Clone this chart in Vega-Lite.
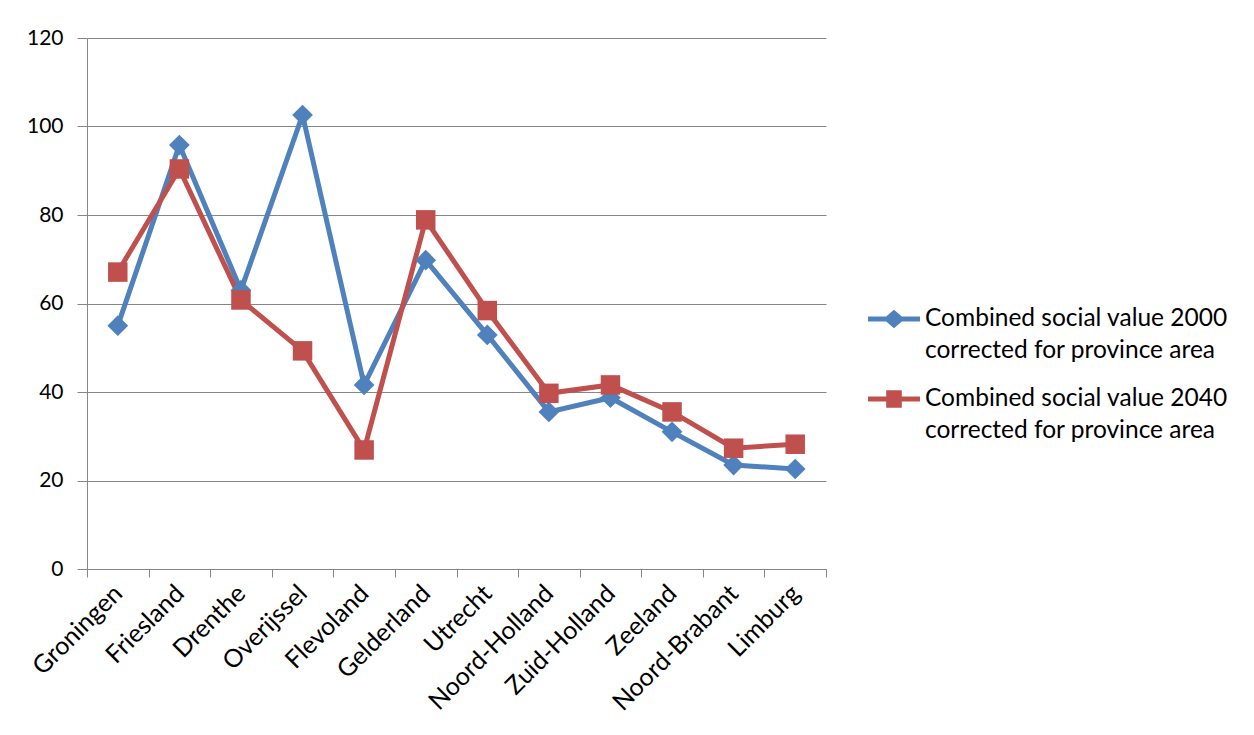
{
  "$schema": "https://vega.github.io/schema/vega-lite/v6.json",
  "width": 739,
  "height": 531,
  "autosize": {"type": "none"},
  "padding": {"left": 87, "top": 38, "right": 428, "bottom": 166},
  "background": "white",
  "config": {
    "view": {"stroke": null},
    "font": "Lato",
    "axis": {"labelFont": "Lato", "labelFontSize": 21, "labelColor": "#000000", "domainColor": "#868686", "tickColor": "#868686", "gridColor": "#868686"}
  },
  "data": {
    "values": [
      {"province": "Groningen", "series": "Combined social value 2000 corrected for province area", "value": 55},
      {"province": "Friesland", "series": "Combined social value 2000 corrected for province area", "value": 95.8},
      {"province": "Drenthe", "series": "Combined social value 2000 corrected for province area", "value": 63},
      {"province": "Overijssel", "series": "Combined social value 2000 corrected for province area", "value": 102.6},
      {"province": "Flevoland", "series": "Combined social value 2000 corrected for province area", "value": 41.6},
      {"province": "Gelderland", "series": "Combined social value 2000 corrected for province area", "value": 69.8},
      {"province": "Utrecht", "series": "Combined social value 2000 corrected for province area", "value": 52.9},
      {"province": "Noord-Holland", "series": "Combined social value 2000 corrected for province area", "value": 35.5},
      {"province": "Zuid-Holland", "series": "Combined social value 2000 corrected for province area", "value": 38.7},
      {"province": "Zeeland", "series": "Combined social value 2000 corrected for province area", "value": 31},
      {"province": "Noord-Brabant", "series": "Combined social value 2000 corrected for province area", "value": 23.5},
      {"province": "Limburg", "series": "Combined social value 2000 corrected for province area", "value": 22.6},
      {"province": "Groningen", "series": "Combined social value 2040 corrected for province area", "value": 67.1},
      {"province": "Friesland", "series": "Combined social value 2040 corrected for province area", "value": 90.4},
      {"province": "Drenthe", "series": "Combined social value 2040 corrected for province area", "value": 60.8},
      {"province": "Overijssel", "series": "Combined social value 2040 corrected for province area", "value": 49.3},
      {"province": "Flevoland", "series": "Combined social value 2040 corrected for province area", "value": 26.9},
      {"province": "Gelderland", "series": "Combined social value 2040 corrected for province area", "value": 78.9},
      {"province": "Utrecht", "series": "Combined social value 2040 corrected for province area", "value": 58.4},
      {"province": "Noord-Holland", "series": "Combined social value 2040 corrected for province area", "value": 39.7},
      {"province": "Zuid-Holland", "series": "Combined social value 2040 corrected for province area", "value": 41.6},
      {"province": "Zeeland", "series": "Combined social value 2040 corrected for province area", "value": 35.5},
      {"province": "Noord-Brabant", "series": "Combined social value 2040 corrected for province area", "value": 27.3},
      {"province": "Limburg", "series": "Combined social value 2040 corrected for province area", "value": 28.2}
    ]
  },
  "encoding": {
    "x": {
      "field": "province",
      "type": "nominal",
      "sort": null,
      "title": null,
      "scale": {"type": "band", "paddingInner": 0, "paddingOuter": 0},
      "axis": {"tickBand": "extent", "labelAngle": -45, "labelAlign": "right", "labelBaseline": "middle", "labelFontSize": 25, "tickSize": 8, "labelPadding": 12, "labelDx": 6, "grid": false}
    },
    "y": {
      "field": "value",
      "type": "quantitative",
      "title": null,
      "scale": {"domain": [0, 120], "nice": false},
      "axis": {"values": [0, 20, 40, 60, 80, 100, 120], "tickSize": 10, "labelPadding": 14, "grid": true}
    },
    "color": {
      "field": "series",
      "type": "nominal",
      "scale": {"range": ["#4F81BD", "#C0504D"]}
    }
  },
  "layer": [
    {
      "mark": {"type": "line", "strokeWidth": 5},
      "encoding": {
        "detail": {"field": "series"},
        "color": {
          "field": "series",
          "type": "nominal",
          "scale": {"range": ["#4F81BD", "#C0504D"]},
          "legend": {
            "title": null,
            "orient": "none",
            "legendX": 781,
            "legendY": 255,
            "labelFont": "Lato",
            "labelFontSize": 24.5,
            "labelColor": "#000000",
            "labelLimit": 600,
            "labelOffset": 5,
            "labelBaseline": "middle",
            "symbolSize": 2704,
            "rowPadding": 10,
            "labelExpr": "[slice(datum.label, 0, indexof(datum.label, ' corrected')), slice(datum.label, indexof(datum.label, ' corrected') + 1)]",
            "encode": {
              "labels": {"update": {"lineHeight": {"value": 32}}},
              "symbols": {
                "update": {
                  "shape": {"signal": "indexof(datum.value, '2000') >= 0 ? 'M-1,-0.1H-0.3L0,-0.36L0.3,-0.1H1V0.1H0.3L0,0.36L-0.3,0.1H-1Z' : 'M-1,-0.1H-0.3V-0.34H0.3V-0.1H1V0.1H0.3V0.34H-0.3V0.1H-1Z'"},
                  "fill": {"signal": "indexof(datum.value, '2000') >= 0 ? '#4F81BD' : '#C0504D'"},
                  "strokeWidth": {"value": 0},
                  "opacity": {"value": 1}
                }
              }
            }
          }
        }
      }
    },
    {
      "mark": {"type": "point", "filled": true, "opacity": 1},
      "encoding": {
        "shape": {"field": "series", "type": "nominal", "scale": {"range": ["diamond", "square"]}, "legend": null},
        "size": {"field": "series", "type": "nominal", "scale": {"range": [430, 380]}, "legend": null}
      }
    }
  ]
}
